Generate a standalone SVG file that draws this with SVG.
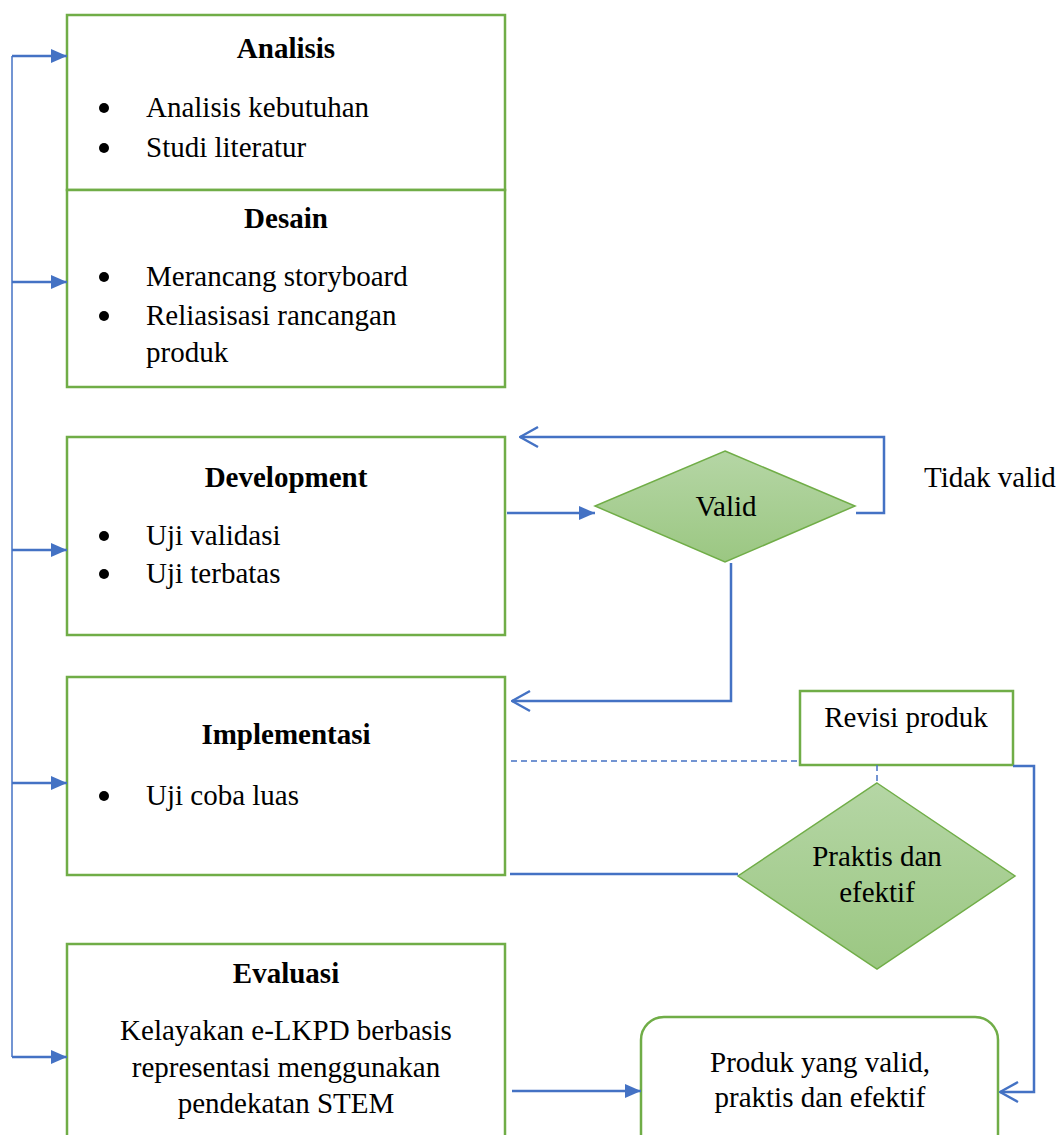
<svg xmlns="http://www.w3.org/2000/svg" width="1062" height="1135" viewBox="0 0 1062 1135">
<style>
.box{fill:#fff;stroke:#70AD47;stroke-width:2.5}
.dia{fill:url(#g);stroke:#70AD47;stroke-width:1.5}
.t{font-family:'Liberation Serif','Tinos','Times New Roman','DejaVu Serif',serif;font-size:29px;fill:#000}
.b{font-weight:bold}
.c{text-anchor:middle}
.ln{fill:none;stroke:#4472C4;stroke-width:2.5}
.thin{fill:none;stroke:#4472C4;stroke-width:1.5}
.dash{fill:none;stroke:#4472C4;stroke-width:1.5;stroke-dasharray:6 4}
.bul{fill:#000}
</style>
<defs>
<linearGradient id="g" x1="0" y1="0" x2="0" y2="1">
<stop offset="0" stop-color="#B5D6A5"/>
<stop offset="1" stop-color="#9BC782"/>
</linearGradient>
<marker id="fa" viewBox="0 0 16 14" refX="16" refY="7" markerWidth="16" markerHeight="14" markerUnits="userSpaceOnUse" orient="auto">
<path d="M0,0 L16,7 L0,14 Z" fill="#4472C4"/>
</marker>
<marker id="oa" viewBox="0 0 20 24" refX="19" refY="12" markerWidth="20" markerHeight="24" markerUnits="userSpaceOnUse" orient="auto">
<path d="M1,2 L19,12 L1,22" fill="none" stroke="#4472C4" stroke-width="2.5"/>
</marker>
</defs>

<g id="analisis" font-family="Liberation Serif, serif">
<rect class="box" x="67" y="15" width="438" height="175"/>
<text class="t b c" x="286" y="58">Analisis</text>
<circle class="bul" cx="104" cy="108" r="5"/>
<text class="t" x="146" y="117">Analisis kebutuhan</text>
<circle class="bul" cx="104" cy="148" r="5"/>
<text class="t" x="146" y="157">Studi literatur</text>
</g>

<g id="desain">
<rect class="box" x="67" y="190" width="438" height="197"/>
<text class="t b c" x="286" y="228">Desain</text>
<circle class="bul" cx="104" cy="277" r="5"/>
<text class="t" x="146" y="286">Merancang storyboard</text>
<circle class="bul" cx="104" cy="316" r="5"/>
<text class="t" x="146" y="325">Reliasisasi rancangan</text>
<text class="t" x="146" y="362">produk</text>
</g>

<g id="development">
<rect class="box" x="67" y="437" width="438" height="198"/>
<text class="t b c" x="286" y="487">Development</text>
<circle class="bul" cx="104" cy="536" r="5"/>
<text class="t" x="146" y="545">Uji validasi</text>
<circle class="bul" cx="104" cy="574" r="5"/>
<text class="t" x="146" y="583">Uji terbatas</text>
</g>

<g id="implementasi">
<rect class="box" x="67" y="677" width="438" height="198"/>
<text class="t b c" x="286" y="744">Implementasi</text>
<circle class="bul" cx="104" cy="796" r="5"/>
<text class="t" x="146" y="805">Uji coba luas</text>
</g>

<g id="evaluasi">
<rect class="box" x="67" y="944" width="438" height="210"/>
<text class="t b c" x="286" y="983">Evaluasi</text>
<text class="t c" x="286" y="1040">Kelayakan e-LKPD berbasis</text>
<text class="t c" x="286" y="1077">representasi menggunakan</text>
<text class="t c" x="286" y="1113">pendekatan STEM</text>
</g>

<g id="valid">
<polygon class="dia" points="725,451 855,506 725,562 595,506"/>
<text class="t c" x="726" y="516">Valid</text>
</g>

<g id="tidak-valid-label">
<text class="t" x="924" y="487">Tidak valid</text>
</g>

<g id="revisi">
<rect class="box" x="800" y="691" width="213" height="74"/>
<text class="t c" x="906" y="727">Revisi produk</text>
</g>

<g id="praktis">
<polygon class="dia" points="877,783 1015,876 877,969 738,876"/>
<text class="t c" x="877" y="866">Praktis dan</text>
<text class="t c" x="877" y="902">efektif</text>
</g>

<g id="produk">
<rect class="box" x="641" y="1017" width="357" height="140" rx="23" ry="23"/>
<text class="t c" x="820" y="1072">Produk yang valid,</text>
<text class="t c" x="820" y="1107">praktis dan efektif</text>
</g>

<g id="connectors">
<path class="thin" d="M12,56 V1057"/>
<path class="ln" d="M12,56 H67" marker-end="url(#fa)"/>
<path class="ln" d="M12,282 H67" marker-end="url(#fa)"/>
<path class="ln" d="M12,550 H67" marker-end="url(#fa)"/>
<path class="ln" d="M12,783 H67" marker-end="url(#fa)"/>
<path class="ln" d="M12,1057 H67" marker-end="url(#fa)"/>
<path class="ln" d="M507,513 H595" marker-end="url(#fa)"/>
<path class="ln" d="M856,513 H884 V437 H520" marker-end="url(#oa)"/>
<path class="ln" d="M731,563 V701 H512" marker-end="url(#oa)"/>
<path class="dash" d="M511,761 H800"/>
<path class="dash" d="M877,765 V783"/>
<path class="ln" d="M510,874 H738"/>
<path class="ln" d="M1013,766 H1034 V1092 H1000" marker-end="url(#oa)"/>
<path class="ln" d="M512,1091 H641" marker-end="url(#fa)"/>
</g>
</svg>
